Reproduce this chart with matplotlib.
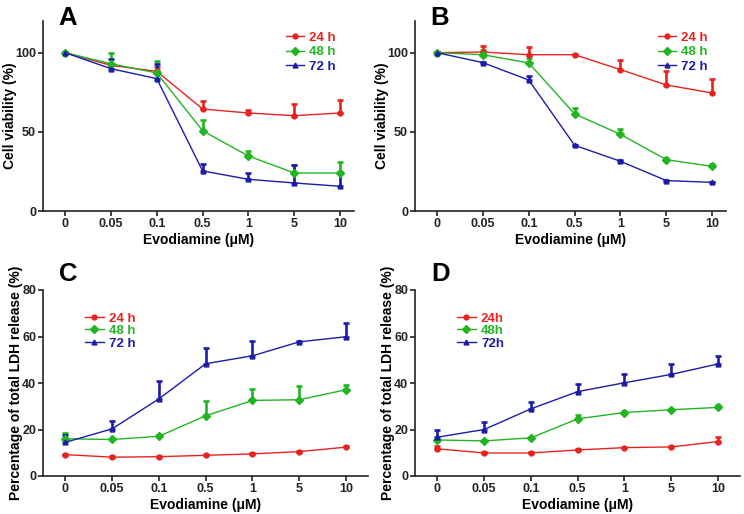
import matplotlib
matplotlib.use("Agg")
import matplotlib.pyplot as plt
import numpy as np

plt.rcParams['font.family'] = ['Liberation Sans', 'DejaVu Sans']
plt.rcParams['font.weight'] = 'bold'

doses = ["0", "0.05", "0.1", "0.5", "1", "5", "10"]
series_labels_ab = ["24 h", "48 h", "72 h"]
series_labels_c = ["24 h", "48 h", "72 h"]
series_labels_d = ["24h", "48h", "72h"]

# Panel A (cell viability)
a_24 = [100, 92, 88.2, 64.4, 61.9, 60.2, 61.9]
a_24_err = [0.5, 1.0, 2.8, 5.1, 1.7, 7.2, 8.4]
a_48 = [100, 93, 87.2, 50.7, 34.7, 24.0, 24.0]
a_48_err = [0.5, 6.8, 7.5, 6.6, 3.2, 5.0, 7.0]
a_72 = [100, 89.9, 83.6, 25.3, 20.0, 17.7, 15.6]
a_72_err = [0.5, 6.1, 9.4, 4.6, 4.2, 11.1, 8.8]

# Panel B (cell viability)
b_24 = [100, 100.4, 98.7, 98.7, 89.3, 79.6, 74.5]
b_24_err = [0.5, 4.0, 4.9, 0.5, 5.9, 9.0, 8.9]
b_48 = [100, 98.7, 93.5, 61.3, 48.4, 32.4, 28.2]
b_48_err = [0.5, 2.8, 3.3, 3.7, 3.2, 1.3, 1.3]
b_72 = [100, 93.7, 82.7, 41.5, 31.4, 19.2, 18.1]
b_72_err = [0.5, 0.5, 2.3, 0.5, 0.5, 0.5, 0.5]

# Panel C (LDH release)
c_24 = [9.2, 8.1, 8.3, 8.9, 9.5, 10.5, 12.4]
c_24_err = [0.4, 0.3, 0.3, 0.3, 0.3, 0.4, 0.4]
c_48 = [16.0, 15.7, 17.1, 25.9, 32.5, 32.8, 37.1]
c_48_err = [2.4, 0.4, 0.4, 6.3, 4.8, 5.8, 1.9]
c_72 = [14.5, 20.3, 33.2, 48.3, 51.7, 57.7, 59.9]
c_72_err = [3.2, 3.2, 7.7, 6.7, 6.4, 0.4, 6.0]

# Panel D (LDH release)
d_24 = [11.7, 9.9, 9.9, 11.2, 12.2, 12.5, 14.8]
d_24_err = [1.1, 0.3, 0.3, 0.3, 0.3, 0.3, 1.9]
d_48 = [15.5, 15.1, 16.4, 24.6, 27.3, 28.5, 29.5]
d_48_err = [0.4, 0.4, 0.4, 1.5, 0.6, 0.4, 1.1]
d_72 = [16.7, 20.0, 28.9, 36.3, 40.1, 43.7, 48.2]
d_72_err = [3.2, 3.3, 3.1, 3.4, 3.9, 4.6, 3.5]

RED = "#e8221e"
GREEN = "#22b522"
BLUE = "#1c1ca8"
colors = [RED, GREEN, BLUE]
markers = ["o", "D", "^"]
msizes = [3.5, 4.5, 3.5]

fig = plt.figure(figsize=(7.44, 5.14), dpi=100)

W, H = 744.0, 514.0
def rect(l, t, r, b):
    return [l / W, 1 - b / H, (r - l) / W, (b - t) / H]

axA = fig.add_axes(rect(43, 21, 354, 211))
axB = fig.add_axes(rect(415, 21, 726, 211))
axC = fig.add_axes(rect(43, 290, 368, 476))
axD = fig.add_axes(rect(415, 290, 740, 476))

x = np.arange(len(doses))

def draw(ax, data, errs, labels, ylim, yticks, ylabel, letter, legend_anchor, xmax,
         ylab_x, letter_y, lspacing):
    handles = []
    for vals, err, c, m, ms, lab in zip(data, errs, colors, markers, msizes, labels):
        err = np.array(err)
        ax.errorbar(x, vals, yerr=[np.zeros_like(err), err], color=c, ecolor=c,
                    elinewidth=1.9, capsize=2.5, capthick=1.9, linestyle='none', zorder=2)
        h, = ax.plot(x, vals, color=c, lw=1.0, marker=m, ms=ms, mec=c, mfc=c, label=lab, zorder=3)
        handles.append(h)
    ax.set_xlim(-0.48, xmax)
    ax.set_ylim(*ylim)
    ax.set_yticks(yticks)
    ax.set_xticks(x)
    ax.set_xticklabels(doses)
    for s in ['top', 'right']:
        ax.spines[s].set_visible(False)
    for s in ['left', 'bottom']:
        ax.spines[s].set_linewidth(1.2)
        ax.spines[s].set_color('#222222')
    ax.tick_params(direction='out', length=3.5, width=1.2, labelsize=9, colors='#222222', pad=1.5)
    for lbl in ax.get_xticklabels() + ax.get_yticklabels():
        lbl.set_fontweight('bold')
    ax.set_xlabel("Evodiamine (μM)", fontsize=10, fontweight='bold', labelpad=2)
    ax.set_ylabel(ylabel, fontsize=10, fontweight='bold')
    ax.yaxis.set_label_coords(ylab_x, 0.5)
    ax.legend(handles=handles, loc='upper left', bbox_to_anchor=legend_anchor,
              frameon=False, handlelength=1.4, handletextpad=0.4,
              labelspacing=lspacing, borderaxespad=0, borderpad=0,
              labelcolor=colors, prop={'weight': 'bold', 'size': 9.5})
    ax.text(0.05, letter_y, letter, transform=ax.transAxes, fontsize=18.5, fontweight='bold',
            va='top', ha='left')

draw(axA, [a_24, a_48, a_72], [a_24_err, a_48_err, a_72_err], series_labels_ab,
     (0, 120), [0, 50, 100], "Cell viability (%)", "A", (0.78, 0.945), 6.3,
     -0.085, 1.08, 0.18)
draw(axB, [b_24, b_48, b_72], [b_24_err, b_48_err, b_72_err], series_labels_ab,
     (0, 120), [0, 50, 100], "Cell viability (%)", "B", (0.78, 0.945), 6.3,
     -0.085, 1.08, 0.18)
draw(axC, [c_24, c_48, c_72], [c_24_err, c_48_err, c_72_err], series_labels_c,
     (0, 80), [0, 20, 40, 60, 80], "Percentage of total LDH release (%)", "C", (0.13, 0.88), 6.47,
     -0.062, 1.15, 0.02)
draw(axD, [d_24, d_48, d_72], [d_24_err, d_48_err, d_72_err], series_labels_d,
     (0, 80), [0, 20, 40, 60, 80], "Percentage of total LDH release (%)", "D", (0.13, 0.88), 6.47,
     -0.062, 1.15, 0.02)

fig.savefig("out.png", dpi=100)
